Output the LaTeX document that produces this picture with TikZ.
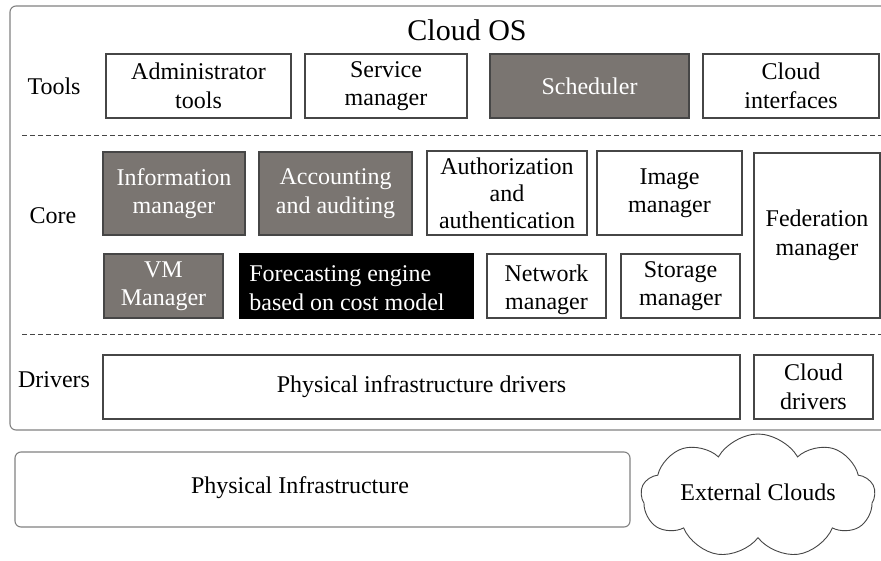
\documentclass[tikz,border=0pt]{standalone}
\usepackage{fontspec}
\setmainfont{Liberation Serif}
\usetikzlibrary{shapes.symbols}
\definecolor{boxgray}{RGB}{122,117,113}
\definecolor{linegray}{RGB}{70,70,70}
\definecolor{outergray}{RGB}{130,130,130}
\begin{document}
\begin{tikzpicture}[x=1pt,y=-1pt,
  every node/.style={font=\fontsize{24}{28.5}\selectfont, align=center, inner sep=0pt},
  box/.style={draw=linegray, line width=1.1pt, fill=white, text=black},
  graybox/.style={draw=linegray, line width=1.1pt, fill=boxgray, text=white},
  blackbox/.style={draw=black, line width=1.1pt, fill=black, text=white},
  sep/.style={draw=linegray, line width=0.9pt, dash pattern=on 5pt off 3pt},
  lbl/.style={text=black}]
\clip (0,0) rectangle (881,560);
\fill[white] (0,0) rectangle (881,560);
% outer Cloud OS frame
\draw[outergray, line width=1.1pt, rounded corners=6pt] (10,6) rectangle (920,430);
\node[lbl, font=\fontsize{30}{33}\selectfont] (title) at (467,30) {Cloud OS};
% layer labels
\node[lbl] (ltools) at (54,86) {Tools};
\node[lbl] (lcore) at (53,216) {Core};
\node[lbl] (ldrivers) at (54,380) {Drivers};
% separators
\coordinate (s1a) at (22,135); \coordinate (s1b) at (881,135);
\coordinate (s2a) at (22,334); \coordinate (s2b) at (881,334);
\draw[sep] (s1a) -- (s1b);
\draw[sep] (s2a) -- (s2b);
% Tools row
\node[box, minimum width=185pt, minimum height=64pt] (admin) at (198.5,86) {Administrator\\tools};
\node[box, minimum width=162pt, minimum height=64pt] (service) at (386,86) {Service\\manager};
\node[graybox, minimum width=199pt, minimum height=64pt] (sched) at (589.5,86) {Scheduler};
\node[box, minimum width=176pt, minimum height=64pt] (cif) at (791,86) {Cloud\\interfaces};
% Core row 1
\node[graybox, minimum width=142pt, minimum height=83pt] (info) at (174,193.5) {Information\\manager};
\node[graybox, minimum width=153pt, minimum height=83pt] (acct) at (335.5,193.5) {Accounting\\and auditing};
\node[box, minimum width=160pt, minimum height=84pt, font=\fontsize{24}{27}\selectfont] (auth) at (507,193) {Authorization\\and\\authentication};
\node[box, minimum width=145pt, minimum height=84pt] (image) at (669.5,193) {Image\\manager};
\node[box, minimum width=126pt, minimum height=165pt] (fed) at (817,235.5) {Federation\\manager};
% Core row 2
\node[graybox, minimum width=119pt, minimum height=64pt] (vm) at (163.5,286) {VM\\Manager};
\node[blackbox, minimum width=233pt, minimum height=64pt] (fore) at (356.5,286) {};
\node[text=white, align=left] (foretext) at (347,288) {Forecasting engine\\based on cost model};
\node[box, minimum width=119pt, minimum height=64pt] (net) at (546.5,286) {};
\node[lbl] (nettext) at (546.5,290) {Network\\manager};
\node[box, minimum width=119pt, minimum height=64pt] (stor) at (680.5,286) {Storage\\manager};
% Drivers row
\node[box, minimum width=637pt, minimum height=64pt] (pid) at (421.5,387) {Physical infrastructure drivers};
\node[box, minimum width=119pt, minimum height=64pt] (cdr) at (813.5,387) {Cloud\\drivers};
% Physical infrastructure
\node[draw=outergray, line width=1.1pt, rounded corners=6pt, minimum width=615pt, minimum height=75pt] (phys) at (322.5,489.5) {};
\node[lbl] (phystext) at (300,488) {Physical Infrastructure};
% External clouds
\node[cloud, draw=linegray, line width=0.9pt, fill=white, cloud puffs=9, cloud puff arc=120, cloud ignores aspect, minimum width=234pt, minimum height=124pt] (ext) at (758,496) {};
\node[lbl] (exttext) at (758,492) {External Clouds};
\end{tikzpicture}
\end{document}
